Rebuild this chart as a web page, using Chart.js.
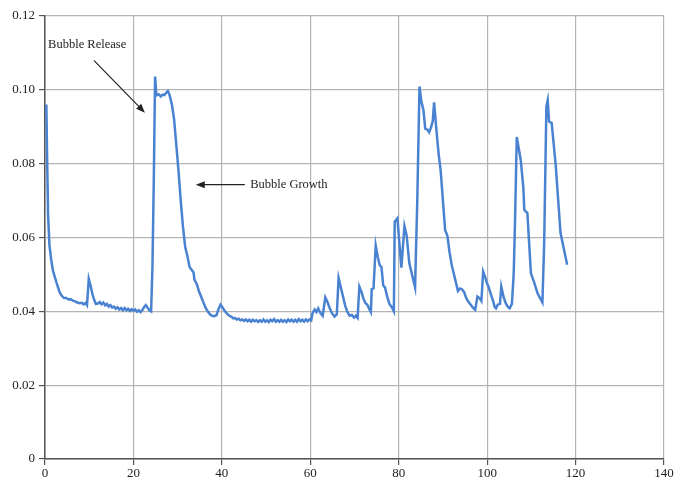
<!DOCTYPE html>
<html>
<head>
<meta charset="utf-8">
<script src="https://cdn.jsdelivr.net/npm/chart.js@4/dist/chart.umd.min.js"></script>
<style>
    html, body { margin: 0; padding: 0; background: #ffffff; }
    #wrap { width: 676px; height: 481px; }
</style>
</head>
<body>
<div id="wrap"><canvas id="grafica"></canvas></div>
<script>

// tiempo (eje x) y valores
const tiempos = [
    0.3, 0.5, 0.7, 1.0, 1.4, 1.8, 2.3, 2.8, 3.3, 3.8, 4.3, 4.8, 5.3, 5.8, 6.3, 6.8, 7.3, 7.8, 8.3, 8.8,
    9.2, 9.5, 9.9, 10.3, 10.7, 11.1, 11.5, 12.0, 12.4, 12.8, 13.2, 13.6, 14.0, 14.4, 14.8, 15.2, 15.6, 16.0, 16.4, 16.8,
    17.2, 17.6, 18.0, 18.4, 18.8, 19.2, 19.6, 20.0, 20.4, 20.8, 21.2, 21.6, 22.0, 22.4, 22.8, 23.2, 23.6, 24.0, 24.3, 24.6,
    24.9, 25.2, 25.7, 26.2, 26.6, 27.0, 27.4, 27.8, 28.2, 28.7, 29.2, 29.7, 30.2, 30.7, 31.2, 31.7, 32.2, 32.7, 33.2, 33.6,
    33.8, 34.3, 34.8, 35.3, 35.8, 36.3, 36.8, 37.3, 37.8, 38.3, 38.8, 39.2, 39.7, 40.2, 40.7, 41.2, 41.7, 42.2, 42.6, 43.0,
    43.4, 43.8, 44.2, 44.6, 45.0, 45.4, 45.8, 46.2, 46.6, 47.0, 47.4, 47.8, 48.2, 48.6, 49.0, 49.4, 49.8, 50.2, 50.6, 51.0,
    51.4, 51.8, 52.2, 52.6, 53.0, 53.4, 53.8, 54.2, 54.6, 55.0, 55.4, 55.8, 56.2, 56.6, 57.0, 57.4, 57.8, 58.2, 58.6, 59.0,
    59.4, 59.8, 60.2, 60.5, 61.0, 61.4, 61.8, 62.3, 62.8, 63.4, 63.9, 64.4, 64.9, 65.5, 66.0, 66.4, 66.9, 67.4, 67.9, 68.4,
    68.9, 69.4, 69.9, 70.3, 70.7, 71.1, 71.6, 72.0, 72.5, 72.9, 73.4, 73.7, 73.9, 74.3, 74.8, 75.3, 75.7, 76.1, 76.5, 76.9,
    77.4, 77.9, 78.5, 78.9, 79.1, 79.7, 80.6, 81.3, 81.8, 82.4, 82.9, 83.3, 83.7, 84.2, 84.7, 85.1, 85.6, 86.0, 86.5, 86.9,
    87.3, 87.7, 88.0, 88.5, 89.0, 89.5, 90.0, 90.5, 91.0, 91.5, 92.0, 92.5, 93.0, 93.4, 93.9, 94.3, 94.8, 95.3, 95.8, 96.3,
    96.8, 97.3, 97.8, 98.3, 98.7, 99.1, 99.5, 99.9, 100.3, 100.8, 101.3, 101.7, 102.0, 102.4, 102.9, 103.2, 103.7, 104.2, 104.7, 105.1,
    105.6, 106.0, 106.3, 106.7, 107.6, 108.2, 108.4, 109.1, 109.9, 110.6, 111.4, 112.5, 112.9, 113.4, 113.7, 114.0, 114.6, 115.5, 116.6, 118.1
];

const valores = [
    0.0960, 0.0800, 0.0660, 0.0580, 0.0540, 0.0510, 0.0490, 0.0470, 0.0452, 0.0442, 0.0436, 0.0436, 0.0432, 0.0433, 0.0429, 0.0427, 0.0424, 0.0422, 0.0423, 0.0419,
    0.0423, 0.0417, 0.0488, 0.0470, 0.0448, 0.0432, 0.0420, 0.0421, 0.0425, 0.0419, 0.0424, 0.0416, 0.0420, 0.0413, 0.0417, 0.0410, 0.0413, 0.0407, 0.0411, 0.0405,
    0.0409, 0.0403, 0.0409, 0.0403, 0.0407, 0.0401, 0.0406, 0.0402, 0.0405, 0.0399, 0.0403, 0.0398, 0.0403, 0.0411, 0.0417, 0.0410, 0.0403, 0.0400, 0.0520, 0.0750,
    0.1036, 0.0985, 0.0988, 0.0982, 0.0987, 0.0986, 0.0992, 0.0997, 0.0985, 0.0960, 0.0920, 0.0850, 0.0780, 0.0700, 0.0630, 0.0575, 0.0550, 0.0520, 0.0512, 0.0505,
    0.0485, 0.0475, 0.0455, 0.0440, 0.0425, 0.0410, 0.0400, 0.0392, 0.0388, 0.0387, 0.0390, 0.0405, 0.0418, 0.0410, 0.0400, 0.0393, 0.0388, 0.0385, 0.0381, 0.0382,
    0.0378, 0.0380, 0.0376, 0.0378, 0.0374, 0.0378, 0.0373, 0.0377, 0.0372, 0.0377, 0.0373, 0.0376, 0.0371, 0.0376, 0.0372, 0.0378, 0.0372, 0.0376, 0.0371, 0.0377,
    0.0373, 0.0379, 0.0372, 0.0376, 0.0372, 0.0377, 0.0372, 0.0376, 0.0371, 0.0378, 0.0373, 0.0377, 0.0372, 0.0377, 0.0372, 0.0379, 0.0373, 0.0377, 0.0372, 0.0378,
    0.0373, 0.0378, 0.0375, 0.0395, 0.0405, 0.0398, 0.0408, 0.0395, 0.0388, 0.0438, 0.0425, 0.0408, 0.0395, 0.0386, 0.0392, 0.0490, 0.0465, 0.0440, 0.0415, 0.0398,
    0.0388, 0.0390, 0.0383, 0.0388, 0.0382, 0.0467, 0.0452, 0.0435, 0.0422, 0.0418, 0.0405, 0.0398, 0.0460, 0.0462, 0.0578, 0.0545, 0.0525, 0.0520, 0.0470, 0.0465,
    0.0440, 0.0420, 0.0410, 0.0400, 0.0643, 0.0652, 0.0518, 0.0631, 0.0605, 0.0530, 0.0505, 0.0485, 0.0465, 0.0700, 0.1009, 0.0970, 0.0945, 0.0895, 0.0892, 0.0885,
    0.0898, 0.0915, 0.0966, 0.0895, 0.0830, 0.0780, 0.0700, 0.0620, 0.0605, 0.0560, 0.0525, 0.0500, 0.0475, 0.0455, 0.0462, 0.0460, 0.0452, 0.0435, 0.0425, 0.0418,
    0.0410, 0.0404, 0.0440, 0.0435, 0.0428, 0.0508, 0.0495, 0.0478, 0.0467, 0.0448, 0.0430, 0.0412, 0.0408, 0.0418, 0.0420, 0.0467, 0.0440, 0.0422, 0.0412, 0.0408,
    0.0420, 0.0500, 0.0640, 0.0872, 0.0810, 0.0733, 0.0675, 0.0666, 0.0503, 0.0480, 0.0449, 0.0424, 0.0585, 0.0955, 0.0972, 0.0914, 0.0910, 0.0797, 0.0612, 0.0526
];

const ticksX = [0, 20, 40, 60, 80, 100, 120, 140];
const ticksY = [0, 0.02, 0.04, 0.06, 0.08, 0.10, 0.12];

// anotaciones en coordenadas de datos
const notas = [
    { texto: "Bubble Release", x: 0.7, y: 0.1122, flechaDe: [11.1, 0.1079], flechaA: [22.6, 0.0938] },
    { texto: "Bubble Growth", x: 46.4, y: 0.0743, flechaDe: [45.2, 0.0743], flechaA: [34.1, 0.0743] }
];

const puntos = tiempos.map((t, i) => ({ x: t, y: valores[i] }));

const pluginNotas = {
    id: "notas",
    afterDatasetsDraw(chart) {
        const ctx = chart.ctx;
        const sx = chart.scales.x;
        const sy = chart.scales.y;

        ctx.save();
        ctx.fillStyle = "#222";
        ctx.strokeStyle = "#222";
        ctx.lineWidth = 1.2;
        ctx.font = "12.5px 'Liberation Serif', serif";
        ctx.textBaseline = "middle";

        notas.forEach(n => {
            ctx.fillText(n.texto, sx.getPixelForValue(n.x), sy.getPixelForValue(n.y));

            const x0 = sx.getPixelForValue(n.flechaDe[0]);
            const y0 = sy.getPixelForValue(n.flechaDe[1]);
            const x1 = sx.getPixelForValue(n.flechaA[0]);
            const y1 = sy.getPixelForValue(n.flechaA[1]);
            const ang = Math.atan2(y1 - y0, x1 - x0);

            ctx.beginPath();
            ctx.moveTo(x0, y0);
            ctx.lineTo(x1 - 6 * Math.cos(ang), y1 - 6 * Math.sin(ang));
            ctx.stroke();

            ctx.beginPath();
            ctx.moveTo(x1, y1);
            ctx.lineTo(x1 - 9 * Math.cos(ang) + 3.5 * Math.sin(ang), y1 - 9 * Math.sin(ang) - 3.5 * Math.cos(ang));
            ctx.lineTo(x1 - 9 * Math.cos(ang) - 3.5 * Math.sin(ang), y1 - 9 * Math.sin(ang) + 3.5 * Math.cos(ang));
            ctx.closePath();
            ctx.fill();
        });

        ctx.restore();
    }
};

const fuente = { family: "'Liberation Serif', serif", size: 13 };

new Chart(document.getElementById("grafica"), {

    type: "scatter",

    data: {
        datasets: [
            {
                data: puntos,
                showLine: true,
                borderColor: "#4a82d2",
                borderWidth: 2.5,
                pointRadius: 0,
                fill: false,
                tension: 0
            }
        ]
    },

    options: {
        responsive: true,
        maintainAspectRatio: false,
        animation: false,
        layout: {
            padding: { top: 16, right: 12, left: 0, bottom: 0 }
        },
        plugins: {
            legend: { display: false },
            tooltip: { enabled: false }
        },
        scales: {
            x: {
                type: "linear",
                min: 0,
                max: 140,
                afterBuildTicks: s => { s.ticks = ticksX.map(v => ({ value: v })); },
                afterFit: s => { s.height = 22; },
                ticks: {
                    color: "#222",
                    font: fuente,
                    padding: 1,
                    maxRotation: 0
                },
                grid: {
                    color: "#b4b4b4",
                    lineWidth: 1.2,
                    tickLength: 6,
                    tickColor: "#555"
                },
                border: { color: "#555", width: 1.5 }
            },
            y: {
                min: 0,
                max: 0.12,
                afterBuildTicks: s => { s.ticks = ticksY.map(v => ({ value: v })); },
                afterFit: s => { s.width = 45; },
                ticks: {
                    color: "#222",
                    font: fuente,
                    padding: 4,
                    callback: v => (v === 0 ? "0" : v.toFixed(2))
                },
                grid: {
                    color: "#b4b4b4",
                    lineWidth: 1.2,
                    tickLength: 6,
                    tickColor: "#555"
                },
                border: { color: "#555", width: 1.5 }
            }
        }
    },

    plugins: [pluginNotas]
});
</script>
</body>
</html>
